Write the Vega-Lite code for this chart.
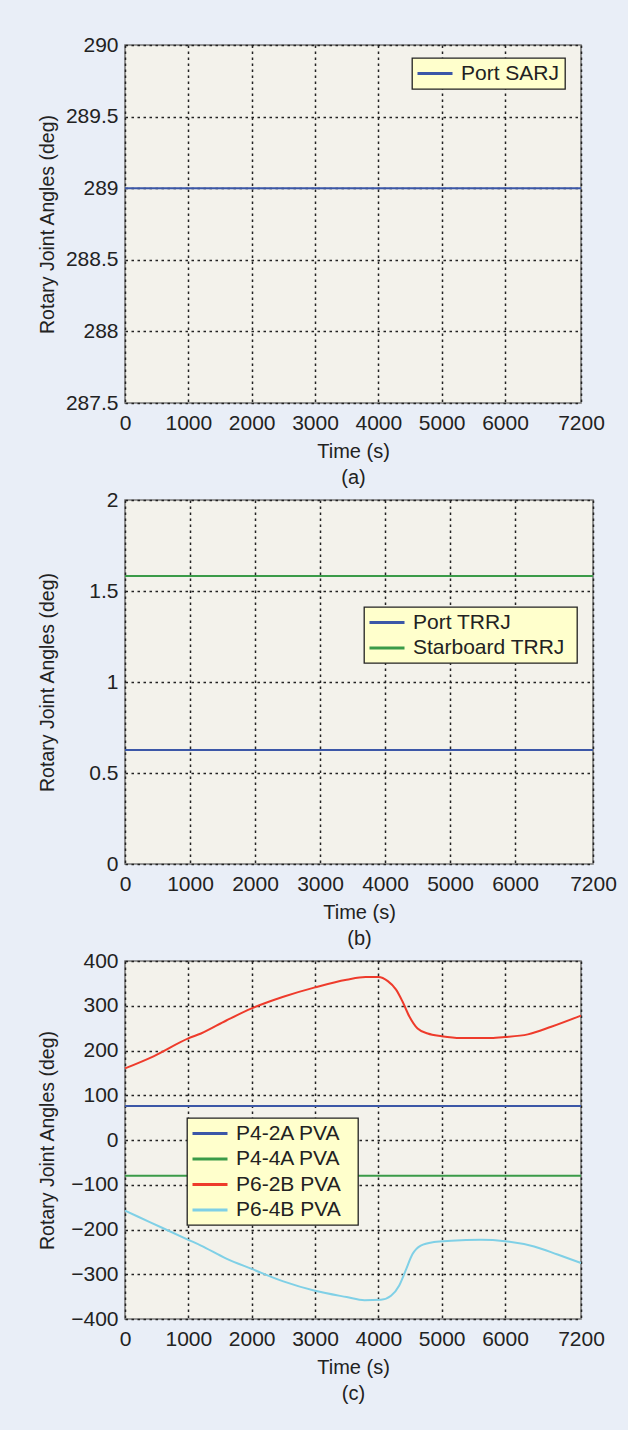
{
  "$schema": "https://vega.github.io/schema/vega-lite/v6.json",
  "background": "#e9eef7",
  "padding": {"left": 36, "top": 33, "right": 13, "bottom": 27},
  "bounds": "flush",
  "spacing": 97,
  "datasets": {
    "a": [
      {"t": 0, "angle": 289, "series": "Port SARJ"},
      {"t": 7200, "angle": 289, "series": "Port SARJ"}
    ],
    "b": [
      {"t": 0, "angle": 0.626, "series": "Port TRRJ"},
      {"t": 7200, "angle": 0.626, "series": "Port TRRJ"},
      {"t": 0, "angle": 1.582, "series": "Starboard TRRJ"},
      {"t": 7200, "angle": 1.582, "series": "Starboard TRRJ"}
    ],
    "c": [
      {"t": 0, "angle": 76, "series": "P4-2A PVA"},
      {"t": 7200, "angle": 76, "series": "P4-2A PVA"},
      {"t": 0, "angle": -80, "series": "P4-4A PVA"},
      {"t": 7200, "angle": -80, "series": "P4-4A PVA"},
      {"t": 0, "angle": 160, "series": "P6-2B PVA"},
      {"t": 450, "angle": 187, "series": "P6-2B PVA"},
      {"t": 1000, "angle": 227, "series": "P6-2B PVA"},
      {"t": 1200, "angle": 238, "series": "P6-2B PVA"},
      {"t": 1600, "angle": 267, "series": "P6-2B PVA"},
      {"t": 2000, "angle": 294, "series": "P6-2B PVA"},
      {"t": 2500, "angle": 320, "series": "P6-2B PVA"},
      {"t": 3000, "angle": 341, "series": "P6-2B PVA"},
      {"t": 3500, "angle": 358, "series": "P6-2B PVA"},
      {"t": 3800, "angle": 364, "series": "P6-2B PVA"},
      {"t": 4000, "angle": 364, "series": "P6-2B PVA"},
      {"t": 4150, "angle": 355, "series": "P6-2B PVA"},
      {"t": 4280, "angle": 336, "series": "P6-2B PVA"},
      {"t": 4380, "angle": 310, "series": "P6-2B PVA"},
      {"t": 4490, "angle": 276, "series": "P6-2B PVA"},
      {"t": 4620, "angle": 249, "series": "P6-2B PVA"},
      {"t": 4780, "angle": 238, "series": "P6-2B PVA"},
      {"t": 5000, "angle": 232, "series": "P6-2B PVA"},
      {"t": 5300, "angle": 228, "series": "P6-2B PVA"},
      {"t": 5780, "angle": 228, "series": "P6-2B PVA"},
      {"t": 6000, "angle": 230, "series": "P6-2B PVA"},
      {"t": 6360, "angle": 236, "series": "P6-2B PVA"},
      {"t": 6730, "angle": 253, "series": "P6-2B PVA"},
      {"t": 7200, "angle": 278, "series": "P6-2B PVA"},
      {"t": 0, "angle": -158, "series": "P6-4B PVA"},
      {"t": 400, "angle": -184, "series": "P6-4B PVA"},
      {"t": 1000, "angle": -223, "series": "P6-4B PVA"},
      {"t": 1200, "angle": -236, "series": "P6-4B PVA"},
      {"t": 1600, "angle": -265, "series": "P6-4B PVA"},
      {"t": 2000, "angle": -288, "series": "P6-4B PVA"},
      {"t": 2500, "angle": -316, "series": "P6-4B PVA"},
      {"t": 3000, "angle": -337, "series": "P6-4B PVA"},
      {"t": 3500, "angle": -351, "series": "P6-4B PVA"},
      {"t": 3780, "angle": -358, "series": "P6-4B PVA"},
      {"t": 4040, "angle": -357, "series": "P6-4B PVA"},
      {"t": 4200, "angle": -348, "series": "P6-4B PVA"},
      {"t": 4330, "angle": -325, "series": "P6-4B PVA"},
      {"t": 4430, "angle": -292, "series": "P6-4B PVA"},
      {"t": 4540, "angle": -255, "series": "P6-4B PVA"},
      {"t": 4670, "angle": -236, "series": "P6-4B PVA"},
      {"t": 4880, "angle": -228, "series": "P6-4B PVA"},
      {"t": 5150, "angle": -225, "series": "P6-4B PVA"},
      {"t": 5620, "angle": -223, "series": "P6-4B PVA"},
      {"t": 6000, "angle": -226, "series": "P6-4B PVA"},
      {"t": 6460, "angle": -238, "series": "P6-4B PVA"},
      {"t": 6830, "angle": -256, "series": "P6-4B PVA"},
      {"t": 7200, "angle": -275, "series": "P6-4B PVA"}
    ]
  },
  "config": {
    "font": "Liberation Sans",
    "view": {"fill": "#f3f2eb", "stroke": "#7a7a7a", "strokeWidth": 1.6},
    "axis": {
      "domain": false,
      "ticks": false,
      "grid": true,
      "gridColor": "#222222",
      "gridDash": [2.5, 3.5],
      "gridWidth": 1.5,
      "gridOpacity": 1,
      "labelFontSize": 21,
      "labelColor": "#222222",
      "titleFontSize": 19.5,
      "titleFontWeight": "normal",
      "titleColor": "#222222",
      "labelFlush": false,
      "labelOverlap": false
    },
    "axisX": {"labelPadding": 9, "titleBaseline": "top", "titleLineHeight": 26, "titleY": 38, "titleAlign": "center", "titleFontSize": 20},
    "axisY": {"labelPadding": 7, "titleBaseline": "middle", "titleAlign": "center", "titleX": -78, "titleAngle": -90},
    "legend": {
      "orient": "none",
      "fillColor": "#ffffcc",
      "strokeColor": "#222222",
      "strokeWidth": 1.3,
      "padding": 5,
      "symbolType": "M-1,0H3.375",
      "symbolSize": 256,
      "symbolOffset": -2,
      "symbolStrokeWidth": 3,
      "labelFontSize": 21,
      "labelColor": "#222222",
      "labelOffset": 25,
      "rowPadding": 3.5,
      "titleOrient": "right",
      "titleFontSize": 21
    }
  },
  "resolve": {"scale": {"color": "independent", "x": "independent", "y": "independent"}},
  "vconcat": [
    {
      "width": 456,
      "height": 358,
      "data": {"name": "a"},
      "mark": {"type": "line", "strokeWidth": 2},
      "encoding": {
        "x": {"field": "t", "type": "quantitative", "scale": {"domain": [0, 7200], "nice": false, "zero": false},
          "axis": {"values": [0, 1000, 2000, 3000, 4000, 5000, 6000, 7200], "format": "d", "title": ["Time (s)", "(a)"], "titleX": 228}},
        "y": {"field": "angle", "type": "quantitative", "scale": {"domain": [287.5, 290], "nice": false, "zero": false},
          "axis": {"values": [287.5, 288, 288.5, 289, 289.5, 290], "format": "~f", "title": "Rotary Joint Angles (deg)", "titleY": 179}},
        "color": {"field": "series", "type": "nominal", "scale": {"domain": ["Port SARJ"], "range": ["#3b57a7"]},
          "legend": {"legendX": 287, "legendY": 13, "title": null}}
      }
    },
    {
      "width": 468,
      "height": 364,
      "data": {"name": "b"},
      "mark": {"type": "line", "strokeWidth": 2},
      "encoding": {
        "x": {"field": "t", "type": "quantitative", "scale": {"domain": [0, 7200], "nice": false, "zero": false},
          "axis": {"values": [0, 1000, 2000, 3000, 4000, 5000, 6000, 7200], "format": "d", "title": ["Time (s)", "(b)"], "titleX": 234}},
        "y": {"field": "angle", "type": "quantitative", "scale": {"domain": [0, 2], "nice": false, "zero": false},
          "axis": {"values": [0, 0.5, 1, 1.5, 2], "format": "~f", "title": "Rotary Joint Angles (deg)", "titleY": 182}},
        "color": {"field": "series", "type": "nominal", "scale": {"domain": ["Port TRRJ", "Starboard TRRJ"], "range": ["#3b57a7", "#3a9b48"]},
          "legend": {"legendX": 239, "legendY": 107, "title": "\u00a0", "titlePadding": 7}}
      }
    },
    {
      "width": 456,
      "height": 358,
      "data": {"name": "c"},
      "mark": {"type": "line", "strokeWidth": 2, "interpolate": "monotone"},
      "encoding": {
        "x": {"field": "t", "type": "quantitative", "scale": {"domain": [0, 7200], "nice": false, "zero": false},
          "axis": {"values": [0, 1000, 2000, 3000, 4000, 5000, 6000, 7200], "format": "d", "title": ["Time (s)", "(c)"], "titleX": 228}},
        "y": {"field": "angle", "type": "quantitative", "scale": {"domain": [-400, 400], "nice": false, "zero": false},
          "axis": {"values": [-400, -300, -200, -100, 0, 100, 200, 300, 400], "format": "~f", "title": "Rotary Joint Angles (deg)", "titleY": 179}},
        "color": {"field": "series", "type": "nominal", "scale": {"domain": ["P4-2A PVA", "P4-4A PVA", "P6-2B PVA", "P6-4B PVA"], "range": ["#3b57a7", "#3a9b48", "#ee3b2b", "#7fd0e6"]},
          "legend": {"legendX": 62, "legendY": 157, "title": "\u00a0", "titlePadding": 12}}
      }
    }
  ]
}
